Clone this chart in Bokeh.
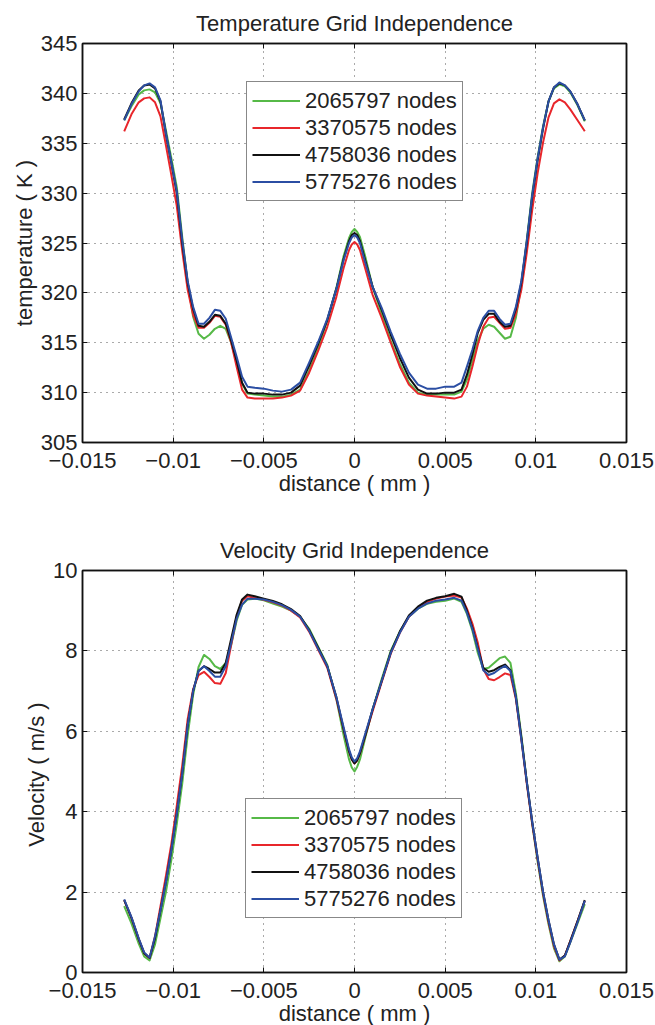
from bokeh.plotting import figure
from bokeh.models import (Legend, LegendItem, LinearAxis, FixedTicker, Range1d)
from bokeh.layouts import column
from bokeh.embed import file_html
from bokeh.resources import INLINE

FONT = "Liberation Sans"

distance = [-0.0127, -0.0123, -0.0119, -0.0116, -0.0113, -0.0110, -0.0107, -0.0104, -0.0101, -0.0098,
            -0.0095, -0.0092, -0.0089, -0.0086, -0.0083, -0.0080, -0.0077, -0.0074, -0.0071, -0.0068,
            -0.0065, -0.0062, -0.0059, -0.0055, -0.0050, -0.0045, -0.0040, -0.0035, -0.0030, -0.0025,
            -0.0020, -0.0015, -0.0010, -0.0006, -0.0003, -0.00015, 0.0, 0.00015,
            0.0003, 0.0006, 0.0010, 0.0015, 0.0020, 0.0025, 0.0030, 0.0035, 0.0040, 0.0045,
            0.0050, 0.0055, 0.0059, 0.0062, 0.0065, 0.0068, 0.0071, 0.0074, 0.0077, 0.0080,
            0.0083, 0.0086, 0.0089, 0.0092, 0.0095, 0.0098, 0.0101, 0.0104, 0.0107, 0.0110,
            0.0113, 0.0116, 0.0119, 0.0123, 0.0127]

series_labels = ["2065797 nodes", "3370575 nodes", "4758036 nodes", "5775276 nodes"]
series_colors = ["#56b947", "#e8262b", "#111111", "#2b4ea3"]

temp_2065797 = [337.3, 338.7, 339.9, 340.3, 340.4, 340.1, 339.0, 336.3, 333.5, 330.6,
                325.6, 321.0, 317.6, 315.9, 315.4, 315.8, 316.4, 316.7, 316.4, 315.0,
                313.0, 310.9, 309.9, 309.8, 309.7, 309.6, 309.6, 309.8, 310.3, 312.2,
                314.5, 317.2, 320.5, 323.7, 325.5, 326.1, 326.4, 326.1,
                325.6, 323.6, 320.6, 317.9, 315.2, 312.9, 311.0, 310.0, 309.8, 309.8,
                309.8, 309.8, 310.1, 311.3, 313.2, 315.2, 316.4, 316.8, 316.6, 316.0,
                315.4, 315.6, 317.5, 320.8, 325.3, 330.0, 333.6, 336.7, 339.2, 340.5,
                340.9, 340.7, 340.1, 338.8, 337.2]
temp_3370575 = [336.2, 337.9, 339.1, 339.5, 339.6, 339.1, 337.7, 334.8, 331.8, 328.7,
                324.2, 320.3, 317.8, 316.5, 316.5, 317.0, 317.7, 317.6, 316.8, 315.0,
                312.6, 310.3, 309.5, 309.4, 309.4, 309.4, 309.5, 309.7, 310.2, 312.0,
                314.2, 316.6, 319.6, 322.5, 324.3, 324.85, 325.1, 324.85,
                324.3, 322.4, 319.8, 317.5, 315.0, 312.6, 310.8, 309.9, 309.7, 309.6,
                309.5, 309.4, 309.6, 310.6, 312.6, 314.8, 316.6, 317.5, 317.6, 317.0,
                316.4, 316.5, 317.9, 320.3, 324.0, 328.3, 332.0, 335.1, 337.6, 339.0,
                339.4, 339.1, 338.4, 337.3, 336.2]
temp_4758036 = [337.4, 339.0, 340.3, 340.8, 340.9, 340.5, 339.2, 335.9, 333.0, 330.0,
                325.0, 321.0, 318.4, 316.7, 316.6, 317.1, 317.8, 317.7, 316.9, 315.2,
                313.2, 311.0, 310.0, 309.9, 309.9, 309.8, 309.8, 310.0, 310.7, 312.7,
                314.9, 317.3, 320.4, 323.4, 325.2, 325.8, 326.0, 325.8,
                325.2, 323.2, 320.6, 318.3, 315.8, 313.5, 311.5, 310.3, 309.9, 309.9,
                310.0, 310.0, 310.3, 311.8, 313.8, 316.0, 317.3, 317.9, 317.9, 317.1,
                316.6, 316.7, 318.4, 321.0, 325.0, 329.6, 333.3, 336.5, 339.2, 340.6,
                341.0, 340.8, 340.2, 338.9, 337.3]
temp_5775276 = [337.3, 338.9, 340.2, 340.8, 341.0, 340.6, 339.3, 336.0, 333.1, 330.2,
                325.3, 321.2, 318.6, 316.9, 316.9, 317.5, 318.3, 318.2, 317.4, 315.5,
                313.6, 311.6, 310.6, 310.5, 310.4, 310.2, 310.1, 310.3, 311.0, 313.0,
                315.1, 317.4, 320.4, 323.3, 325.0, 325.55, 325.8, 325.55,
                325.0, 323.0, 320.6, 318.5, 316.1, 313.9, 312.0, 310.8, 310.4, 310.4,
                310.6, 310.6, 311.0, 312.6, 314.3, 316.2, 317.5, 318.2, 318.2, 317.4,
                316.8, 316.9, 318.6, 321.2, 325.2, 329.8, 333.5, 336.6, 339.2, 340.6,
                341.1, 340.8, 340.2, 338.9, 337.3]

vel_2065797 = [1.65, 1.22, 0.72, 0.40, 0.30, 0.70, 1.35, 2.00, 2.80, 3.70,
               4.70, 5.90, 6.90, 7.60, 7.90, 7.80, 7.62, 7.55, 7.70, 8.15,
               8.75, 9.15, 9.28, 9.30, 9.26, 9.18, 9.10, 9.00, 8.85, 8.55,
               8.10, 7.65, 6.80, 5.90, 5.30, 5.10, 5.00, 5.12,
               5.30, 5.85, 6.55, 7.30, 8.00, 8.48, 8.85, 9.05, 9.17, 9.22,
               9.25, 9.30, 9.22, 8.92, 8.50, 7.95, 7.55, 7.58, 7.70, 7.82,
               7.86, 7.70, 6.95, 5.90, 4.75, 3.70, 2.75, 1.90, 1.20, 0.60,
               0.28, 0.40, 0.75, 1.22, 1.70]
vel_3370575 = [1.80, 1.36, 0.83, 0.48, 0.36, 0.90, 1.65, 2.40, 3.20, 4.15,
               5.15, 6.30, 7.05, 7.40, 7.48, 7.35, 7.20, 7.18, 7.45, 8.15,
               8.85, 9.25, 9.36, 9.32, 9.27, 9.21, 9.13, 9.00, 8.83, 8.48,
               8.03, 7.58, 6.80, 6.05, 5.50, 5.30, 5.20, 5.28,
               5.45, 5.90, 6.50, 7.22, 7.93, 8.45, 8.85, 9.07, 9.22, 9.30,
               9.35, 9.38, 9.33, 9.05, 8.68, 8.20, 7.55, 7.30, 7.27, 7.35,
               7.44, 7.40, 6.80, 5.80, 4.70, 3.70, 2.80, 1.95, 1.25, 0.65,
               0.30, 0.42, 0.78, 1.28, 1.78]
vel_4758036 = [1.80, 1.36, 0.83, 0.48, 0.36, 0.85, 1.55, 2.25, 3.05, 3.95,
               4.95, 6.15, 7.00, 7.50, 7.62, 7.55, 7.46, 7.46, 7.70, 8.30,
               8.90, 9.28, 9.40, 9.36, 9.30, 9.24, 9.16, 9.04, 8.87, 8.52,
               8.08, 7.62, 6.85, 6.05, 5.50, 5.30, 5.20, 5.28,
               5.45, 5.90, 6.55, 7.25, 7.97, 8.48, 8.88, 9.10, 9.25, 9.32,
               9.36, 9.42, 9.35, 9.00, 8.58, 8.08, 7.58, 7.48, 7.52, 7.60,
               7.66, 7.52, 6.85, 5.85, 4.75, 3.75, 2.85, 2.00, 1.30, 0.70,
               0.32, 0.42, 0.78, 1.28, 1.80]
vel_5775276 = [1.82, 1.38, 0.85, 0.50, 0.37, 0.90, 1.55, 2.25, 3.05, 3.95,
               4.95, 6.15, 7.00, 7.50, 7.62, 7.50, 7.36, 7.36, 7.62, 8.20,
               8.80, 9.15, 9.30, 9.30, 9.28, 9.22, 9.14, 9.02, 8.85, 8.50,
               8.05, 7.62, 6.85, 6.10, 5.55, 5.35, 5.25, 5.33,
               5.50, 5.95, 6.55, 7.25, 7.95, 8.45, 8.85, 9.05, 9.18, 9.25,
               9.28, 9.32, 9.25, 8.95, 8.55, 8.05, 7.52, 7.40, 7.45, 7.55,
               7.63, 7.50, 6.85, 5.80, 4.75, 3.75, 2.85, 2.00, 1.30, 0.70,
               0.32, 0.40, 0.75, 1.25, 1.78]

x_ticks = [-0.015, -0.01, -0.005, 0.0, 0.005, 0.01, 0.015]
x_tick_labels = ["\u22120.015", "\u22120.01", "\u22120.005", "0", "0.005", "0.01", "0.015"]
temp_ticks = [305, 310, 315, 320, 325, 330, 335, 340, 345]
vel_ticks = [0, 2, 4, 6, 8, 10]


def make_plot(title, ylabel, ys, yrange, yticks, frame_h, top_b, bottom_b, legend_loc):
    p = figure(frame_width=544, frame_height=frame_h, output_backend="svg",
               toolbar_location=None, x_range=Range1d(-0.015, 0.015),
               y_range=Range1d(*yrange), min_border_left=82, min_border_right=29,
               min_border_top=top_b, min_border_bottom=bottom_b,
               background_fill_color="white", border_fill_color="white",
               outline_line_color="#111111", outline_line_width=1.5)
    p.title.text = title
    p.title.text_font = FONT
    p.title.text_font_size = "22px"
    p.title.text_font_style = "normal"
    p.title.align = "center"
    p.title.text_color = "#222222"
    p.title.standoff = 16

    def style_axis(ax, labels=True):
        ax.axis_line_color = "#111111"
        ax.axis_line_width = 1.5
        ax.major_tick_in = 5
        ax.major_tick_out = 0
        ax.major_tick_line_color = "#111111"
        ax.minor_tick_line_color = None
        ax.major_label_text_font = FONT
        ax.major_label_text_font_size = "22px"
        ax.major_label_text_color = "#222222" if labels else None
        ax.axis_label_text_font = FONT
        ax.axis_label_text_font_size = "22px"
        ax.axis_label_text_font_style = "normal"
        ax.axis_label_text_color = "#222222"

    p.xaxis.ticker = FixedTicker(ticks=x_ticks)
    p.xaxis.major_label_overrides = {t: l for t, l in zip(x_ticks, x_tick_labels)}
    p.yaxis.ticker = FixedTicker(ticks=yticks)
    p.xaxis.axis_label = "distance ( mm )"
    p.yaxis.axis_label = ylabel
    style_axis(p.xaxis[0])
    style_axis(p.yaxis[0])
    p.xaxis.major_label_standoff = 10
    p.xaxis.axis_label_standoff = 0
    p.yaxis.major_label_standoff = 5
    p.yaxis.axis_label_standoff = 1

    top_ax = LinearAxis(ticker=FixedTicker(ticks=x_ticks))
    right_ax = LinearAxis(ticker=FixedTicker(ticks=yticks))
    style_axis(top_ax, labels=False)
    style_axis(right_ax, labels=False)
    top_ax.major_label_standoff = 0
    right_ax.major_label_standoff = 0
    p.add_layout(top_ax, "above")
    p.add_layout(right_ax, "right")

    p.xgrid.ticker = FixedTicker(ticks=x_ticks)
    p.ygrid.ticker = FixedTicker(ticks=yticks)
    for g in (p.xgrid[0], p.ygrid[0]):
        g.grid_line_color = "#555555"
        g.grid_line_dash = "1 5"
        g.grid_line_width = 1

    items = []
    for yv, lab, col in zip(ys, series_labels, series_colors):
        r = p.line(distance, yv, line_color=col, line_width=2, line_join="round")
        items.append(LegendItem(label=lab, renderers=[r]))
    leg = Legend(items=items, location=legend_loc, orientation="vertical",
                 label_text_font=FONT, label_text_font_size="22px",
                 label_text_color="#222222", glyph_width=48, glyph_height=27,
                 label_height=27, label_standoff=5, spacing=0, padding=5, margin=0,
                 border_line_color="#111111", border_line_width=1.5,
                 background_fill_color="white", background_fill_alpha=1.0)
    p.add_layout(leg, "center")
    return p


p1 = make_plot("Temperature Grid Independence", "temperature ( K )",
               [temp_2065797, temp_3370575, temp_4758036, temp_5775276],
               (305, 345), temp_ticks, 399, 43, 61, (164, 241))
p2 = make_plot("Velocity Grid Independence", "Velocity  ( m/s )",
               [vel_2065797, vel_3370575, vel_4758036, vel_5775276],
               (0, 10), vel_ticks, 402, 67, 51, (163, 54))

layout = column(p1, p2, spacing=0)
open("out.html", "w").write(file_html(layout, INLINE))
